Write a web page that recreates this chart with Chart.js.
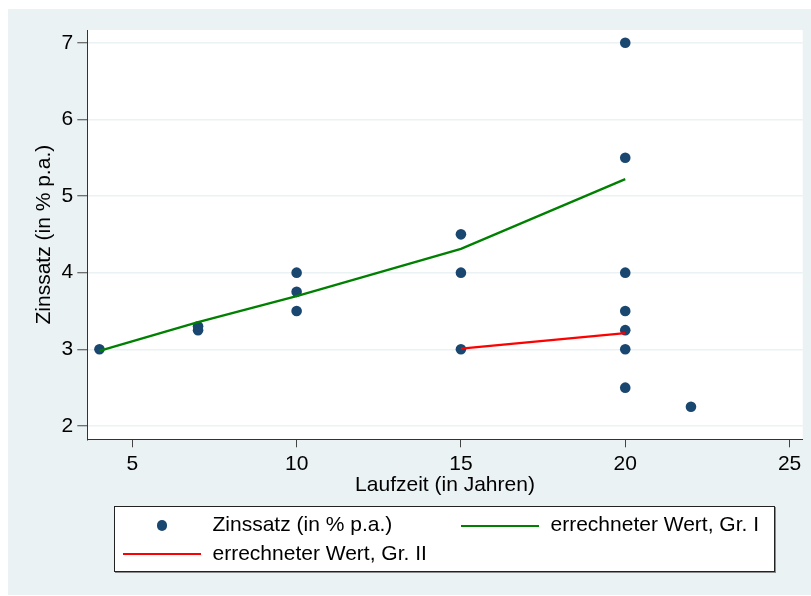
<!DOCTYPE html>
<html>
<head>
<meta charset="utf-8">
<script src="https://cdn.jsdelivr.net/npm/chart.js@4/dist/chart.umd.min.js"></script>
<style>
    body { margin: 0; background: #fff; }
    #wrap { position: relative; width: 811px; height: 596px; }
    #legend {
        position: absolute; left: 114px; top: 506px; width: 659px; height: 64px;
        background: #fff; border: 1px solid #222; box-shadow: 1px 1px 0 #8a8a8a;
        font-family: "Liberation Sans", Arial, sans-serif; font-size: 21px; color: #000;
    }
    #legend span { position: absolute; line-height: 24px; white-space: nowrap; }
    #legend .dot { border-radius: 50%; }
</style>
</head>
<body>
<div id="wrap">
    <canvas id="Chart" width="811" height="596"></canvas>
    <div id="legend"></div>
</div>
<script>
// Beobachtungen
const laufzeit = [4, 7, 7, 10, 10, 10, 15, 15, 15, 20, 20, 20, 20, 20, 20, 20, 22];
const zinssatz = [3, 3.25, 3.3, 3.5, 3.75, 4, 3, 4, 4.5, 2.5, 3, 3.25, 3.5, 4, 5.5, 7, 2.25];

// errechnete Werte, Gruppe I und II
const gr1_x = [4, 7, 10, 15, 20];
const gr1_y = [2.98, 3.356, 3.695, 4.31, 5.22];
const gr2_x = [15, 20];
const gr2_y = [3.01, 3.21];

const x_ticks = [5, 10, 15, 20, 25];
const y_ticks = [2, 3, 4, 5, 6, 7];

const series_labels = ["Zinssatz (in % p.a.)", "errechneter Wert, Gr. I", "errechneter Wert, Gr. II"];
const series_colors = ["#1a476f", "#008000", "#ff0000"];

const FONT = "'Liberation Sans', Arial, sans-serif";

function toPoints(xs, ys)
{
    return xs.map((x, i) => ({x: x, y: ys[i]}));
}

// hellblauer Rahmen, weisse Plotflaeche
const bgPlugin = {
    id: "stataBg",
    beforeDraw(chart) {
        const ctx = chart.ctx;
        const a = chart.chartArea;
        ctx.save();
        ctx.fillStyle = "#eaf2f3";
        ctx.fillRect(8, 9, 803, 586);
        ctx.fillStyle = "#ffffff";
        ctx.fillRect(a.left, a.top, a.right - a.left, a.bottom - a.top);
        ctx.restore();
    }
};

var myChart;
function init_chart()
{
    const ctx = document.getElementById("Chart");
    myChart = new Chart(ctx, {
        type: "scatter",
        data: {
            datasets: [
                {
                    label: series_labels[0],
                    data: toPoints(laufzeit, zinssatz),
                    backgroundColor: series_colors[0],
                    borderColor: series_colors[0],
                    pointRadius: 5.3,
                    pointBorderWidth: 0,
                    order: 3
                },
                {
                    label: series_labels[1],
                    data: toPoints(gr1_x, gr1_y),
                    showLine: true,
                    borderColor: series_colors[1],
                    borderWidth: 2.3,
                    pointRadius: 0,
                    tension: 0,
                    order: 1
                },
                {
                    label: series_labels[2],
                    data: toPoints(gr2_x, gr2_y),
                    showLine: true,
                    borderColor: series_colors[2],
                    borderWidth: 2.3,
                    pointRadius: 0,
                    tension: 0,
                    order: 2
                }
            ]
        },
        options: {
            responsive: false,
            animation: false,
            devicePixelRatio: 1,
            layout: { padding: { left: 0, top: 30, right: 8.3, bottom: 96 } },
            plugins: {
                legend: { display: false },
                tooltip: { enabled: false }
            },
            scales: {
                x: {
                    type: "linear",
                    min: 3.63,
                    max: 25.4,
                    afterBuildTicks: s => { s.ticks = x_ticks.map(v => ({value: v})); },
                    afterFit: s => { s.height = 60.7; },
                    border: { display: true, color: "#333", width: 1 },
                    grid: { drawOnChartArea: false, drawTicks: true, tickLength: 8, tickColor: "#444", tickWidth: 1 },
                    ticks: { color: "#000", font: { family: FONT, size: 21 }, padding: 4.4, maxRotation: 0 },
                    title: {
                        display: true, text: "Laufzeit (in Jahren)", color: "#000",
                        font: { family: FONT, size: 21 }, padding: { top: 0, bottom: 2.5 }
                    }
                },
                y: {
                    type: "linear",
                    min: 1.826,
                    max: 7.166,
                    afterBuildTicks: s => { s.ticks = y_ticks.map(v => ({value: v})); },
                    afterFit: s => { s.width = 87.3; },
                    border: { display: true, color: "#333", width: 1 },
                    grid: { color: "#eaf2f3", lineWidth: 1.5, drawTicks: true, tickLength: 10, tickColor: "#444", tickWidth: 1 },
                    ticks: { color: "#000", font: { family: FONT, size: 21 }, padding: 4 },
                    title: {
                        display: true, text: "Zinssatz (in % p.a.)", color: "#000",
                        font: { family: FONT, size: 21 }, padding: { top: 31.9, bottom: 0 }
                    }
                }
            }
        },
        plugins: [bgPlugin]
    });
}

// Legende unten, zwei Spalten wie im Stata-Export
function build_legend()
{
    const box = document.getElementById("legend");
    const ds = myChart.data.datasets;
    // [Symbol links, Symbol oben, Text links, Text oben]
    const slots = [[47, 18.7, 97.5, 5.2], [345.5, 18.7, 435.5, 5.2], [7.7, 47.3, 97.5, 33.7]];
    ds.forEach((d, i) => {
        const s = slots[i];
        let sym = document.createElement("span");
        if (d.showLine) {
            sym.style.left = s[0] + "px";
            sym.style.top = (s[1] - 1.15) + "px";
            sym.style.width = "78px";
            sym.style.height = "2.3px";
            sym.style.background = d.borderColor;
        } else {
            sym.className = "dot";
            sym.style.left = (s[0] - 5.3) + "px";
            sym.style.top = (s[1] - 5.3) + "px";
            sym.style.width = "10.6px";
            sym.style.height = "10.6px";
            sym.style.background = d.backgroundColor;
        }
        box.appendChild(sym);
        let txt = document.createElement("span");
        txt.style.left = s[2] + "px";
        txt.style.top = s[3] + "px";
        txt.textContent = d.label;
        box.appendChild(txt);
    });
}

init_chart();
build_legend();
</script>
</body>
</html>
